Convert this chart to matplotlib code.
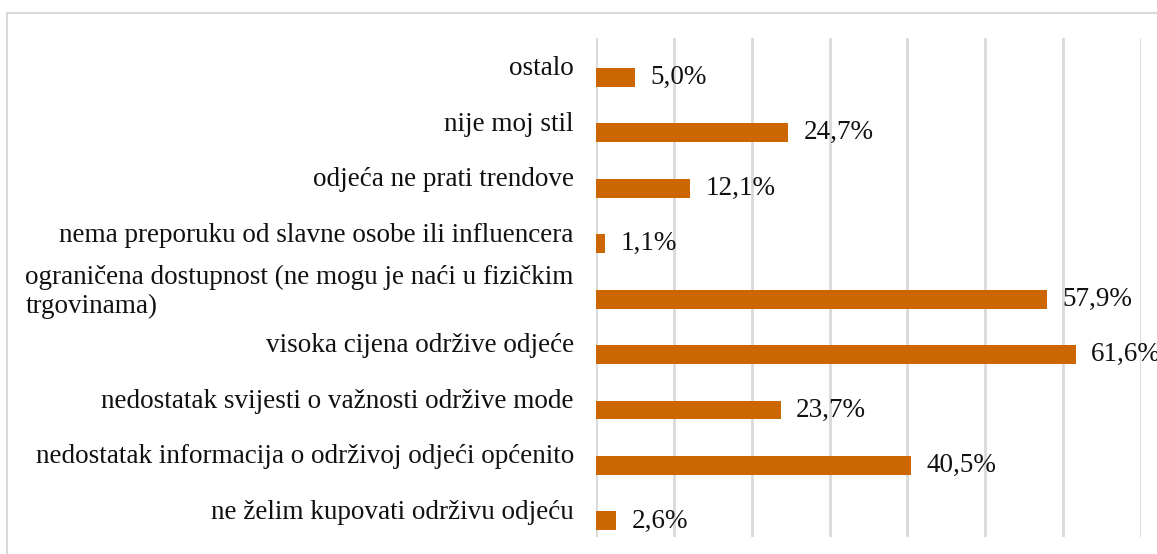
import matplotlib.pyplot as plt
from matplotlib.patches import Rectangle

plt.rcParams['font.family'] = ['Liberation Serif', 'DejaVu Serif']

categories = [
    "ostalo",
    "nije moj stil",
    "odjeća ne prati trendove",
    "nema preporuku od slavne osobe ili influencera",
    "ograničena dostupnost (ne mogu je naći u fizičkim\ntrgovinama)",
    "visoka cijena održive odjeće",
    "nedostatak svijesti o važnosti održive mode",
    "nedostatak informacija o održivoj odjeći općenito",
    "ne želim kupovati održivu odjeću",
]
values = [5.0, 24.7, 12.1, 1.1, 57.9, 61.6, 23.7, 40.5, 2.6]

W, H = 1157, 554
fig = plt.figure(figsize=(W / 100, H / 100), dpi=100)
ax = fig.add_axes([596 / W, 1 - 537 / H, (1141 - 596) / W, (537 - 38) / H])

fs = 19.5
pos = list(range(len(categories)))
shift = 0.21
ax.barh([p + shift for p in pos], values, height=0.34, color='#CC6600', zorder=3)

for p, v in zip(pos, values):
    ax.text(v + 2.0, p + shift, f"{v:.1f}%".replace('.', ','), va='center',
            ha='left', fontsize=fs, color='#111111', clip_on=False)

ax.set_xlim(0, 70)
ax.set_ylim(len(categories) - 0.5, -0.5)
ax.set_xticks(range(0, 71, 10))
ax.set_xticklabels([])
ax.grid(axis='x', color='#d9d9d9', linewidth=2, zorder=0)
ax.set_yticks(pos)
ax.set_yticklabels(categories, fontsize=fs, color='#111111', linespacing=1.2)
for lbl in ax.get_yticklabels():
    lbl.set_multialignment('left')
ax.tick_params(axis='both', length=0, pad=16)
for s in ax.spines.values():
    s.set_visible(False)

# chart area frame, running off the right and bottom edges
fig.add_artist(Rectangle((7 / W, -0.1), 1.2, 1 - 13 / H + 0.1, transform=fig.transFigure,
                         fill=False, edgecolor='#d9d9d9', linewidth=1.5))

fig.savefig('out.png', dpi=100)
